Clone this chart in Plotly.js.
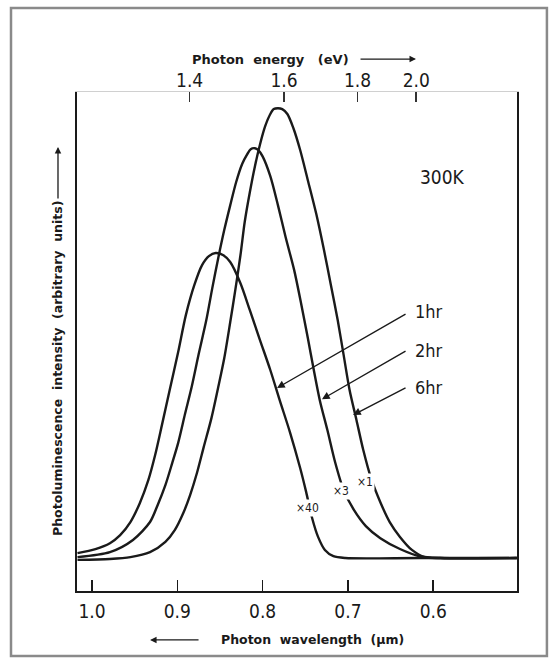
<!DOCTYPE html>
<html>
<head>
<meta charset="utf-8">
<script src="https://cdn.plot.ly/plotly-3.0.1.min.js"></script>
<style>
  html, body { margin: 0; padding: 0; background: #ffffff; }
  #chart { width: 558px; height: 664px; }
</style>
</head>
<body>
<div id="chart"></div>
<script>
// Photon wavelength (µm) and photoluminescence intensity (arb. units)
const wl1hr = [1.017, 0.996, 0.979, 0.967, 0.955, 0.944, 0.934, 0.926, 0.918, 0.909, 0.899, 0.890, 0.880, 0.871, 0.863, 0.855, 0.846, 0.838, 0.826, 0.815, 0.803, 0.791, 0.780, 0.768, 0.756, 0.749, 0.742, 0.735, 0.727, 0.717, 0.703, 0.616, 0.502];
const pl1hr = [1.1, 2.0, 3.3, 5.1, 8.0, 12.2, 17.3, 22.9, 29.6, 37.3, 45.8, 54.0, 60.7, 65.1, 67.1, 67.8, 67.3, 65.8, 61.1, 55.1, 48.4, 41.8, 35.1, 28.0, 20.0, 14.7, 8.9, 4.7, 1.8, 0.4, 0, 0, 0];

const wl2hr = [1.017, 0.979, 0.952, 0.932, 0.923, 0.914, 0.906, 0.899, 0.891, 0.883, 0.875, 0.866, 0.859, 0.852, 0.845, 0.838, 0.831, 0.824, 0.818, 0.814, 0.809, 0.805, 0.800, 0.791, 0.782, 0.773, 0.763, 0.755, 0.747, 0.740, 0.733, 0.724, 0.715, 0.705, 0.693, 0.679, 0.662, 0.639, 0.616, 0.592, 0.502];
const pl2hr = [0.2, 1.3, 4.0, 8.0, 11.8, 16.2, 21.1, 25.6, 32.0, 38.2, 45.3, 52.9, 60.0, 66.7, 72.9, 78.4, 83.6, 87.6, 89.8, 90.9, 91.1, 90.7, 89.3, 84.9, 78.4, 71.3, 64.0, 56.7, 48.9, 41.8, 35.1, 28.4, 21.3, 15.1, 10.7, 7.1, 4.4, 2.0, 0.4, 0, 0];

const wl6hr = [1.017, 0.979, 0.955, 0.932, 0.914, 0.903, 0.893, 0.885, 0.877, 0.869, 0.860, 0.852, 0.845, 0.838, 0.832, 0.826, 0.821, 0.815, 0.809, 0.803, 0.797, 0.791, 0.787, 0.782, 0.777, 0.771, 0.764, 0.756, 0.747, 0.737, 0.728, 0.720, 0.712, 0.705, 0.698, 0.690, 0.682, 0.673, 0.662, 0.651, 0.639, 0.625, 0.610, 0.592, 0.502];
const pl6hr = [-0.4, -0.2, 0.2, 1.3, 3.6, 6.2, 10.0, 14.0, 18.9, 24.7, 31.1, 38.0, 44.4, 52.4, 59.6, 67.3, 74.7, 81.3, 87.1, 92.0, 96.0, 98.7, 99.8, 100, 99.8, 98.7, 95.6, 90.7, 84.0, 76.4, 68.4, 60.7, 52.9, 45.1, 37.3, 30.7, 24.0, 17.8, 12.4, 8.0, 4.7, 1.8, 0.2, 0, 0];

const wavelengthTicks = [1.0, 0.9, 0.8, 0.7, 0.6];
const wavelengthTickLabels = ['1.0', '0.9', '0.8', '0.7', '0.6'];
const energyTicks = [1.4, 1.6, 1.8, 2.0];
const energyTickLabels = ['1.4', '1.6', '1.8', '2.0'];

const seriesNames = ['1hr', '2hr', '6hr'];
const scaleLabels = ['×40', '×3', '×1'];

const HC = 1.23984; // eV·µm
const energyTickPos = energyTicks.map(e => HC / e);

const ink = '#1a1a1a';
const fontFam = '"Liberation Sans Narrow", "DejaVu Sans Condensed", "Liberation Sans", Arial, sans-serif';
const titleFam = '"DejaVu Sans", "Liberation Sans", Arial, sans-serif';

const lineStyle = {color: ink, width: 2.4, shape: 'spline', smoothing: 0.8};
const traces = [
  {x: wl1hr, y: pl1hr, name: seriesNames[0], mode: 'lines', line: lineStyle, hoverinfo: 'skip'},
  {x: wl2hr, y: pl2hr, name: seriesNames[1], mode: 'lines', line: lineStyle, hoverinfo: 'skip'},
  {x: wl6hr, y: pl6hr, name: seriesNames[2], mode: 'lines', line: lineStyle, hoverinfo: 'skip'},
  {x: wl6hr, y: pl6hr, xaxis: 'x2', mode: 'lines', opacity: 0, line: {width: 0}, hoverinfo: 'skip', showlegend: false}
];

const xRange = [1.0176, 0.5018];
const yRange = [-7.33, 103.6];

// label positions (data coords) for series arrows
const arrowTail = {x: 0.6307, y: [54.4, 46.2, 38.0]};
const arrowTip = {x: [0.7831, 0.7304, 0.694], y: [37.8, 35.3, 31.8]};
const labelPos = {x: 0.624, y: [54.7, 46.2, 37.8]};
const scalePos = {x: [0.747, 0.708, 0.680], y: [11.1, 14.9, 16.9]};

const annotations = [];
for (let i = 0; i < 3; i++) {
  annotations.push({
    x: arrowTip.x[i], y: arrowTip.y[i], xref: 'x', yref: 'y',
    ax: arrowTail.x, ay: arrowTail.y[i], axref: 'x', ayref: 'y',
    text: '', showarrow: true, arrowhead: 2, arrowsize: 1.1, arrowwidth: 1.4, arrowcolor: ink
  });
  annotations.push({
    x: labelPos.x, y: labelPos.y[i], xref: 'x', yref: 'y', xanchor: 'left', yanchor: 'middle',
    text: seriesNames[i], showarrow: false, font: {family: fontFam, size: 18, color: ink}
  });
  annotations.push({
    x: scalePos.x[i], y: scalePos.y[i], xref: 'x', yref: 'y', xanchor: 'center', yanchor: 'middle',
    text: scaleLabels[i], showarrow: false, bgcolor: '#ffffff', borderpad: 1,
    font: {family: fontFam, size: 12, color: ink}
  });
}
annotations.push({
  x: 0.589, y: 84.7, xref: 'x', yref: 'y', xanchor: 'center', yanchor: 'middle',
  text: '300K', showarrow: false, font: {family: fontFam, size: 19, color: ink}
});
// top axis title
annotations.push({
  x: 0.44, y: 1.066, xref: 'paper', yref: 'paper', xanchor: 'center', yanchor: 'middle',
  text: '<b>Photon  energy   (eV)</b>', showarrow: false, font: {family: titleFam, size: 13, color: ink}
});
annotations.push({
  x: 0.7705, y: 1.066, xref: 'paper', yref: 'paper', ax: -57, ay: 0,
  text: '', showarrow: true, arrowhead: 2, arrowsize: 1, arrowwidth: 1.3, arrowcolor: ink
});
// bottom axis title
annotations.push({
  x: 0.536, y: -0.098, xref: 'paper', yref: 'paper', xanchor: 'center', yanchor: 'middle',
  text: '<b>Photon  wavelength  (µm)</b>', showarrow: false, font: {family: titleFam, size: 12.5, color: ink}
});
annotations.push({
  x: 0.166, y: -0.098, xref: 'paper', yref: 'paper', ax: 50, ay: 0,
  text: '', showarrow: true, arrowhead: 2, arrowsize: 1, arrowwidth: 1.3, arrowcolor: ink
});
// y axis title
annotations.push({
  x: -0.0432, y: 0.447, xref: 'paper', yref: 'paper', xanchor: 'center', yanchor: 'middle', textangle: -90,
  text: '<b>Photoluminescence  intensity  (arbitrary  units)</b>', showarrow: false,
  font: {family: titleFam, size: 12.5, color: ink}
});
annotations.push({
  x: -0.0432, y: 0.89, xref: 'paper', yref: 'paper', ax: 0, ay: 53,
  text: '', showarrow: true, arrowhead: 2, arrowsize: 1, arrowwidth: 1.3, arrowcolor: ink
});

const layout = {
  width: 558, height: 664,
  margin: {l: 77, r: 41, t: 92, b: 73},
  paper_bgcolor: '#ffffff', plot_bgcolor: '#ffffff',
  showlegend: false,
  xaxis: {
    range: xRange, showgrid: false, zeroline: false,
    showline: true, linecolor: ink, linewidth: 2, mirror: false,
    tickmode: 'array', tickvals: wavelengthTicks, ticktext: wavelengthTickLabels,
    ticks: 'inside', ticklen: 11, tickwidth: 1.6, tickcolor: ink,
    ticklabelstandoff: 2,
    tickfont: {family: fontFam, size: 19, color: ink}
  },
  xaxis2: {
    overlaying: 'x', side: 'top', range: xRange, showgrid: false, zeroline: false,
    showline: true, linecolor: '#d0d0d0', linewidth: 1,
    tickmode: 'array', tickvals: energyTickPos, ticktext: energyTickLabels,
    ticks: 'inside', ticklen: 10, tickwidth: 1.6, tickcolor: '#333',
    ticklabelstandoff: -4,
    tickfont: {family: fontFam, size: 19, color: ink}
  },
  yaxis: {
    range: yRange, showgrid: false, zeroline: false, showticklabels: false, ticks: '',
    showline: true, linecolor: ink, linewidth: 2, mirror: true
  },
  shapes: [{
    type: 'rect', xref: 'paper', yref: 'paper',
    x0: -0.15, x1: 1.068, y0: -0.1303, y1: 1.1683,
    line: {color: '#8a8a8a', width: 2.5}, fillcolor: 'rgba(0,0,0,0)'
  }],
  annotations: annotations
};

Plotly.newPlot('chart', traces, layout, {displayModeBar: false, staticPlot: true});
</script>
</body>
</html>
